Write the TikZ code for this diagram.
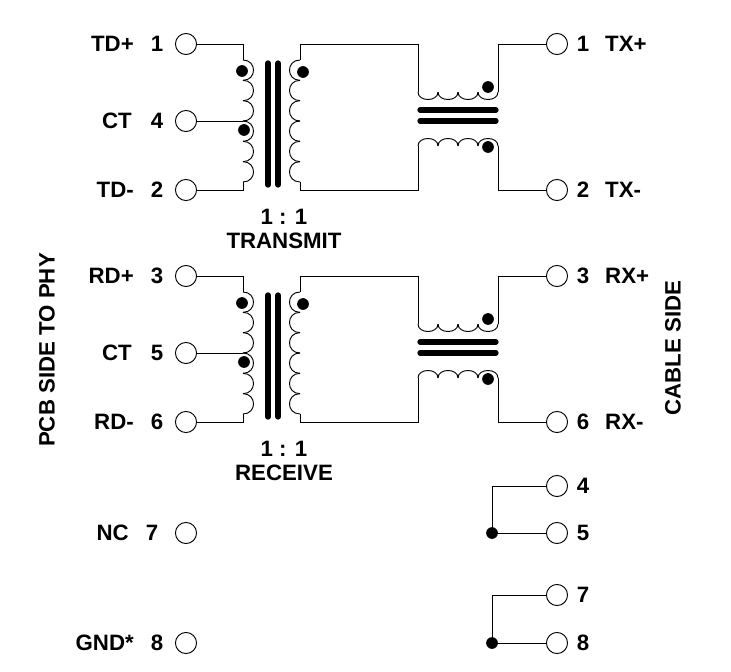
\documentclass[tikz,border=0pt]{standalone}
\usepackage{fontspec}
\setmainfont{Liberation Sans}
\tikzset{
  pin/.style={circle,draw,thick,fill=white,minimum size=18pt,inner sep=0pt},
  lbl/.style={font=\fontsize{19}{22}\selectfont\bfseries,inner sep=0pt},
  dot/.style={circle,fill=black,minimum size=10pt,inner sep=0pt},
  core/.style={line width=4.5pt,line cap=round},
  wire/.style={line width=0.8pt},
}
\begin{document}
\begin{tikzpicture}[x=0.03cm,y=-0.03cm]
\useasboundingbox (0,0) rectangle (731,671);
% two transformer blocks
\foreach \o/\na/\nb/\nc/\pa/\pb/\pc/\ra/\rb/\qa/\qb/\ttl in
  {0/TD+/CT/TD-/1/4/2/1/2/TX+/TX-/TRANSMIT,
   232/RD+/CT/RD-/3/5/6/3/6/RX+/RX-/RECEIVE}{
  \begin{scope}[yshift=-\o*0.03cm]
  % pins
  \node[pin] (L\pa) at (186,44) {};
  \node[pin] (L\pb) at (186,121) {};
  \node[pin] (L\pc) at (186,190) {};
  \node[pin] (R\ra) at (557,44) {};
  \node[pin] (R\rb) at (557,190) {};
  \node[lbl,anchor=east] at (134,44) {\na};
  \node[lbl] at (157,44) {\pa};
  \node[lbl,anchor=east] at (132,121) {\nb};
  \node[lbl] at (157,121) {\pb};
  \node[lbl,anchor=east] at (134,190) {\nc};
  \node[lbl] at (157,190) {\pc};
  \node[lbl] at (583,44) {\ra};
  \node[lbl,anchor=west] at (605,44) {\qa};
  \node[lbl] at (583,190) {\rb};
  \node[lbl,anchor=west] at (605,190) {\qb};
  \node[lbl] at (284,217) {1 : 1};
  \node[lbl] at (284,241) {\ttl};
  % primary winding
  \draw[wire] (L\pa) -| (243,60);
  \draw[wire] (L\pb) -- (243,121);
  \draw[wire] (L\pc) -| (243,182);
  \foreach \i in {0,...,5}
    \draw[wire] (243,60+\i*20.33) .. controls (257,60+\i*20.33) and (257,80.33+\i*20.33) .. (243,80.33+\i*20.33);
  % core
  \draw[core] (268,63) -- (268,185);
  \draw[core] (278,63) -- (278,185);
  % secondary winding
  \draw[wire] (300,60) |- (418,44) -- (418,92);
  \draw[wire] (300,182) |- (418,190) -- (418,146);
  \foreach \i in {0,...,5}
    \draw[wire] (300,60+\i*20.33) .. controls (286,60+\i*20.33) and (286,80.33+\i*20.33) .. (300,80.33+\i*20.33);
  % choke
  \foreach \i in {0,...,3}{
    \draw[wire] (418+\i*20,92) .. controls (418+\i*20,102) and (438+\i*20,102) .. (438+\i*20,92);
    \draw[wire] (418+\i*20,146) .. controls (418+\i*20,136) and (438+\i*20,136) .. (438+\i*20,146);
  }
  \draw[wire] (498,92) |- (R\ra);
  \draw[wire] (498,146) |- (R\rb);
  \draw[core] (420,110) -- (496,110);
  \draw[core] (420,121) -- (496,121);
  % dots
  \node[dot] at (242,71) {};
  \node[dot] at (244,130) {};
  \node[dot] at (303,72) {};
  \node[dot] at (488,87) {};
  \node[dot] at (488,147) {};
  \end{scope}
}
% unused pins
\node[pin] (L7) at (186,533) {};
\node[pin] (L8) at (186,643) {};
\node[lbl,anchor=east] at (129,533) {NC};
\node[lbl] at (152,533) {7};
\node[lbl,anchor=east] at (134,643) {GND*};
\node[lbl] at (157,643) {8};
\foreach \a/\b/\ya/\yb in {4/5/486/533,7/8/595/643}{
  \node[pin] (R\a) at (557,\ya) {};
  \node[pin] (R\b) at (557,\yb) {};
  \node[lbl] at (583,\ya) {\a};
  \node[lbl] at (583,\yb) {\b};
  \node[dot] (J\a) at (492,\yb) {};
  \draw[wire] (J\a.center) |- (R\a);
  \draw[wire] (J\a.center) -- (R\b);
}
% side titles
\node[lbl,rotate=90] at (47,350) {PCB SIDE TO PHY};
\node[lbl,rotate=90] at (673,348) {CABLE SIDE};
\end{tikzpicture}
\end{document}
